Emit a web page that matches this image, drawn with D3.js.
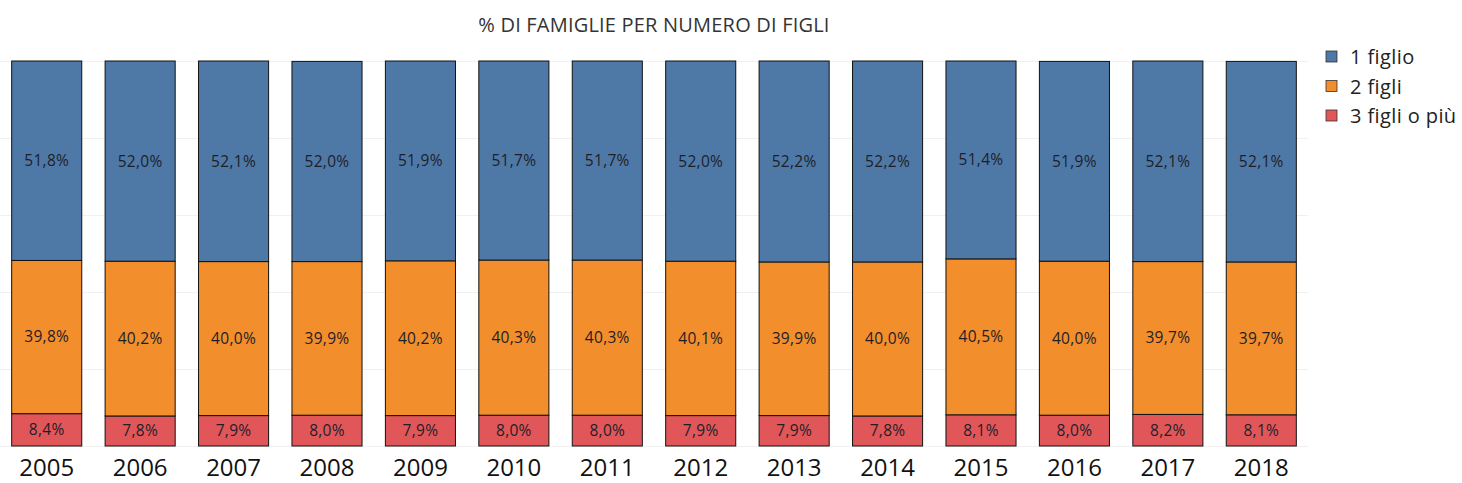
<!DOCTYPE html>
<html>
<head>
<meta charset="utf-8">
<script src="https://cdn.jsdelivr.net/npm/d3@7"></script>
<style>
body { margin: 0; background: #fff; font-family: "Open Sans", sans-serif; }
</style>
</head>
<body>
<div id="chart"></div>
<script>
// categories and series
var years = ['2005', '2006', '2007', '2008', '2009', '2010', '2011', '2012', '2013', '2014', '2015', '2016', '2017', '2018'];
var unFiglio = [51.8, 52.0, 52.1, 52.0, 51.9, 51.7, 51.7, 52.0, 52.2, 52.2, 51.4, 51.9, 52.1, 52.1];
var dueFigli = [39.8, 40.2, 40.0, 39.9, 40.2, 40.3, 40.3, 40.1, 39.9, 40.0, 40.5, 40.0, 39.7, 39.7];
var trePiu = [8.4, 7.8, 7.9, 8.0, 7.9, 8.0, 8.0, 7.9, 7.9, 7.8, 8.1, 8.0, 8.2, 8.1];
var seriesNames = ['3 figli o più', '2 figli', '1 figlio'];
var gridTicks = [0, 20, 40, 60, 80, 100];

var width = 1462, height = 483;
var margin = { top: 61, bottom: 37, left: 0, right: 154 };
var innerW = width - margin.left - margin.right;
var innerH = height - margin.top - margin.bottom;

var svg = d3.select('#chart')
    .append('svg')
    .attr('width', width)
    .attr('height', height);

var g = svg.append('g')
    .attr('transform', 'translate(' + margin.left + ',' + margin.top + ')');

var rows = years.map(function(y, i) {
    return { year: y, '3 figli o più': trePiu[i], '2 figli': dueFigli[i], '1 figlio': unFiglio[i] };
});

var x_scale = d3.scaleBand()
    .domain(years)
    .range([0, innerW])
    .paddingInner(0.25)
    .paddingOuter(0.125);

var y_scale = d3.scaleLinear()
    .domain([0, 100])
    .range([innerH, 0]);

var colour = d3.scaleOrdinal()
    .domain(seriesNames)
    .range(['#e15759', '#f28e2b', '#4e79a7']);

// faint gridlines
g.selectAll('.grid')
    .data(gridTicks)
    .enter()
    .append('line')
    .attr('class', 'grid')
    .attr('x1', 0)
    .attr('x2', innerW)
    .attr('y1', function(d) { return y_scale(d) + 0.5; })
    .attr('y2', function(d) { return y_scale(d) + 0.5; })
    .attr('stroke', '#f0f0f0')
    .attr('stroke-width', 1);

var stacked = d3.stack().keys(seriesNames)(rows);

var layers = g.selectAll('.layer')
    .data(stacked)
    .enter()
    .append('g')
    .attr('class', 'layer')
    .attr('fill', function(d) { return colour(d.key); });

layers.selectAll('rect')
    .data(function(d) { return d; })
    .enter()
    .append('rect')
    .attr('x', function(d) { return x_scale(d.data.year); })
    .attr('width', x_scale.bandwidth())
    .attr('y', function(d) { return y_scale(d[1]); })
    .attr('height', function(d) { return y_scale(d[0]) - y_scale(d[1]); })
    .attr('stroke', '#111')
    .attr('stroke-width', 1);

layers.selectAll('text')
    .data(function(d) { return d; })
    .enter()
    .append('text')
    .attr('x', function(d) { return x_scale(d.data.year) + x_scale.bandwidth() / 2; })
    .attr('y', function(d) { return (y_scale(d[0]) + y_scale(d[1])) / 2; })
    .attr('dy', '0.35em')
    .attr('text-anchor', 'middle')
    .attr('fill', '#1e1e28')
    .style('font-size', '15.5px')
    .style('letter-spacing', '0.3px')
    .text(function(d) { return (d[1] - d[0]).toFixed(1).replace('.', ',') + '%'; });

// x axis labels
var x_axis = d3.axisBottom(x_scale).tickSize(0).tickPadding(13);
g.append('g')
    .attr('class', 'x axis')
    .attr('transform', 'translate(0,' + innerH + ')')
    .call(x_axis)
    .call(function(a) { a.select('.domain').remove(); })
    .selectAll('text')
    .attr('fill', '#111')
    .style('font-size', '24px')
    .style('font-family', '"Open Sans", sans-serif');

// title
svg.append('text')
    .attr('x', 654)
    .attr('y', 32)
    .attr('text-anchor', 'middle')
    .attr('fill', '#333')
    .style('font-size', '20px')
    .style('letter-spacing', '0.2px')
    .text('% DI FAMIGLIE PER NUMERO DI FIGLI');

// legend
var legendItems = seriesNames.slice().reverse();
var legend = svg.selectAll('.legend')
    .data(legendItems)
    .enter()
    .append('g')
    .attr('class', 'legend')
    .attr('transform', function(d, i) { return 'translate(1326,' + (51 + i * 29.5) + ')'; });

legend.append('rect')
    .attr('width', 11)
    .attr('height', 11)
    .attr('fill', function(d) { return colour(d); })
    .attr('stroke', '#333')
    .attr('stroke-width', 0.8);

legend.append('text')
    .attr('x', 24)
    .attr('y', 6)
    .attr('dy', '0.35em')
    .attr('fill', '#222')
    .style('font-size', '20px')
    .style('letter-spacing', '0.4px')
    .text(function(d) { return d; });
</script>
</body>
</html>
